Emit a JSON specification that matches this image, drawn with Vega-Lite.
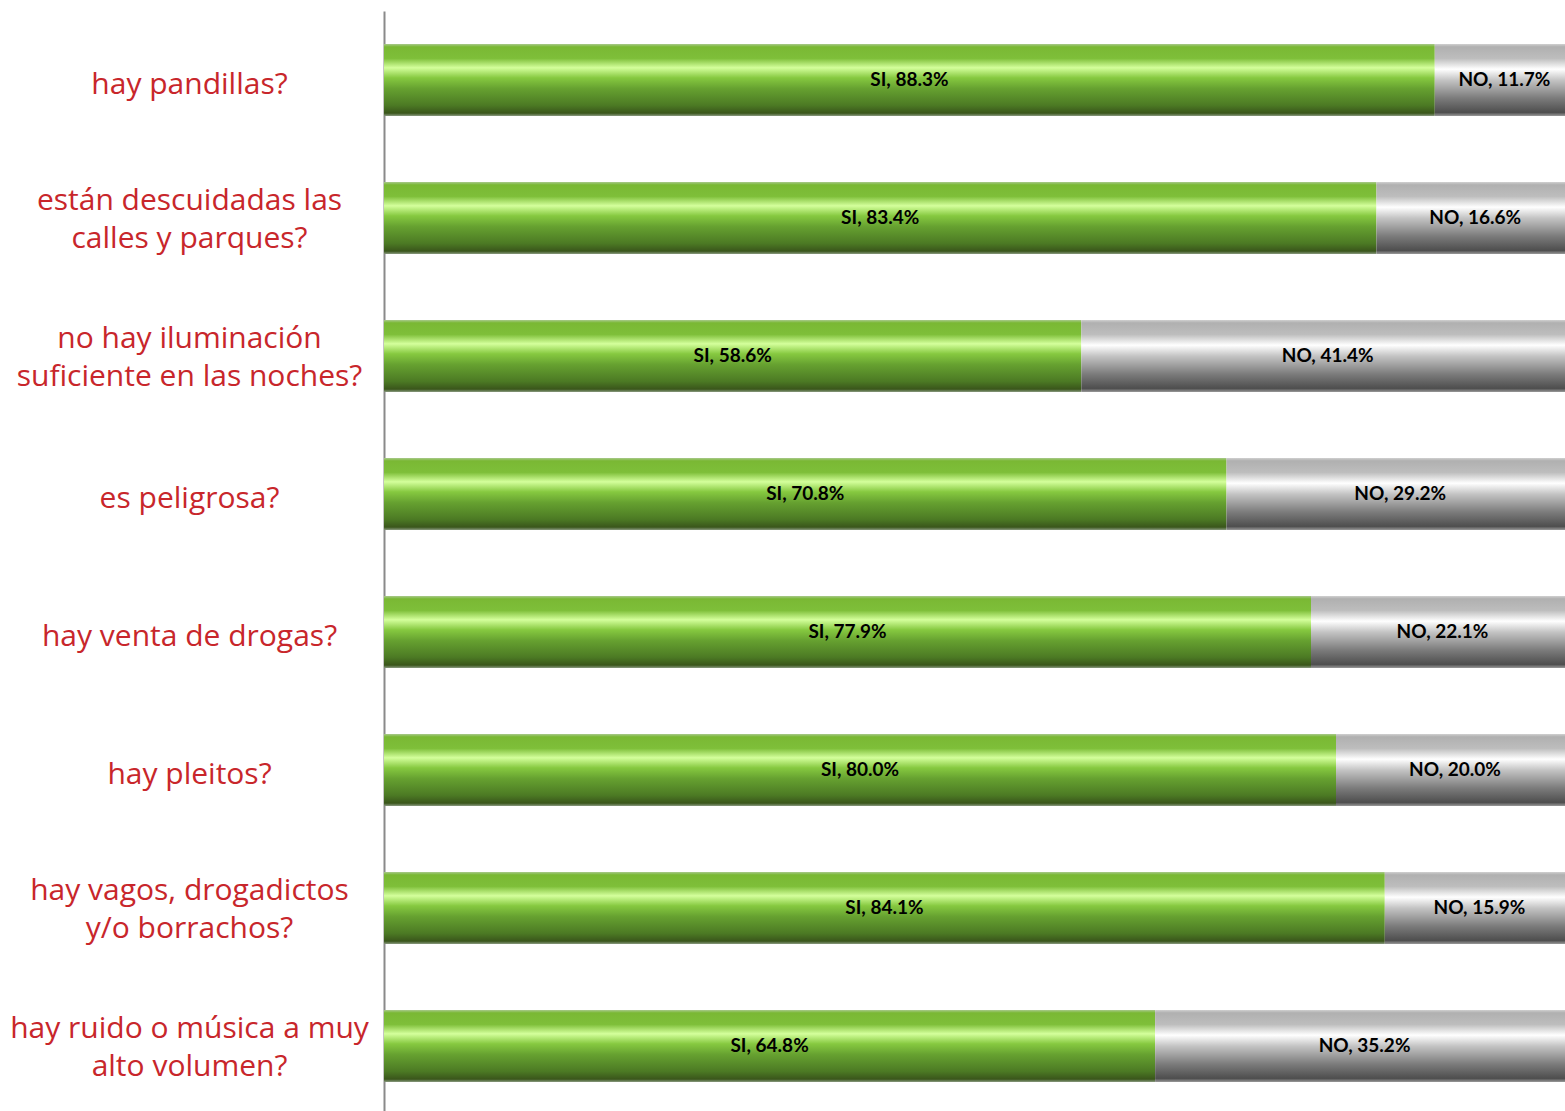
{
  "$schema": "https://vega.github.io/schema/vega-lite/v6.json",
  "autosize": "none",
  "width": 1190,
  "height": 1104,
  "padding": {"left": 384, "top": 11, "right": 0, "bottom": 0},
  "background": "white",
  "view": {"stroke": null},
  "data": {"values": [
    {"q": "hay pandillas?", "resp": "SI", "pct": 88.3, "ord": 1},
    {"q": "hay pandillas?", "resp": "NO", "pct": 11.7, "ord": 2},
    {"q": "están descuidadas las|calles y parques?", "resp": "SI", "pct": 83.4, "ord": 1},
    {"q": "están descuidadas las|calles y parques?", "resp": "NO", "pct": 16.6, "ord": 2},
    {"q": "no hay iluminación|suficiente en las noches?", "resp": "SI", "pct": 58.6, "ord": 1},
    {"q": "no hay iluminación|suficiente en las noches?", "resp": "NO", "pct": 41.4, "ord": 2},
    {"q": "es peligrosa?", "resp": "SI", "pct": 70.8, "ord": 1},
    {"q": "es peligrosa?", "resp": "NO", "pct": 29.2, "ord": 2},
    {"q": "hay venta de drogas?", "resp": "SI", "pct": 77.9, "ord": 1},
    {"q": "hay venta de drogas?", "resp": "NO", "pct": 22.1, "ord": 2},
    {"q": "hay pleitos?", "resp": "SI", "pct": 80.0, "ord": 1},
    {"q": "hay pleitos?", "resp": "NO", "pct": 20.0, "ord": 2},
    {"q": "hay vagos, drogadictos|y/o borrachos?", "resp": "SI", "pct": 84.1, "ord": 1},
    {"q": "hay vagos, drogadictos|y/o borrachos?", "resp": "NO", "pct": 15.9, "ord": 2},
    {"q": "hay ruido o música a muy|alto volumen?", "resp": "SI", "pct": 64.8, "ord": 1},
    {"q": "hay ruido o música a muy|alto volumen?", "resp": "NO", "pct": 35.2, "ord": 2}
  ]},
  "transform": [
    {"stack": "pct", "groupby": ["q"], "sort": [{"field": "ord", "order": "ascending"}], "as": ["x0", "x1"]},
    {"calculate": "(datum.x0 + datum.x1) / 2", "as": "mid"},
    {"calculate": "datum.resp + ', ' + format(datum.pct, '.1f') + '%'", "as": "label"}
  ],
  "encoding": {
    "y": {
      "field": "q", "type": "nominal", "sort": null,
      "scale": {"paddingInner": 0.478, "paddingOuter": 0.239},
      "axis": {
        "title": null,
        "ticks": false,
        "labelPadding": 195,
        "labelAlign": "center",
        "labelBaseline": "middle",
        "labelExpr": "split(datum.label, '|')",
        "labelOffset": {"condition": {"test": "indexof(datum.value, '|') >= 0", "value": -17}, "value": 5},
        "labelFont": "Open Sans",
        "labelFontSize": 30,
        "labelLineHeight": 38,
        "labelColor": "#C8262B",
        "labelLimit": 0,
        "domainColor": "#8a8a8a",
        "domainWidth": 2,
        "grid": false
      }
    }
  },
  "layer": [
    {
      "transform": [{"filter": "datum.resp == 'SI'"}],
      "mark": {
        "type": "bar",
        "color": {
          "gradient": "linear", "x1": 0, "y1": 0, "x2": 0, "y2": 1,
          "stops": [
            {"offset": 0, "color": "#a9c98c"},
            {"offset": 0.04, "color": "#7ab834"},
            {"offset": 0.2, "color": "#7ebf39"},
            {"offset": 0.33, "color": "#d4ff9c"},
            {"offset": 0.47, "color": "#86c940"},
            {"offset": 0.62, "color": "#66a130"},
            {"offset": 0.85, "color": "#4c7a24"},
            {"offset": 0.96, "color": "#3a561b"},
            {"offset": 1, "color": "#8a9a80"}
          ]
        }
      },
      "encoding": {
        "x": {"field": "x0", "type": "quantitative", "scale": {"domain": [0, 100], "nice": false}, "axis": null},
        "x2": {"field": "x1"}
      }
    },
    {
      "transform": [{"filter": "datum.resp == 'NO'"}],
      "mark": {
        "type": "bar",
        "color": {
          "gradient": "linear", "x1": 0, "y1": 0, "x2": 0, "y2": 1,
          "stops": [
            {"offset": 0, "color": "#d0d0d0"},
            {"offset": 0.04, "color": "#b0b0b0"},
            {"offset": 0.2, "color": "#bdbdbd"},
            {"offset": 0.35, "color": "#ffffff"},
            {"offset": 0.5, "color": "#c4c4c4"},
            {"offset": 0.75, "color": "#7c7c7c"},
            {"offset": 0.95, "color": "#4e4e4e"},
            {"offset": 1, "color": "#9a9a9a"}
          ]
        }
      },
      "encoding": {
        "x": {"field": "x0", "type": "quantitative", "scale": {"domain": [0, 100], "nice": false}, "axis": null},
        "x2": {"field": "x1"}
      }
    },
    {
      "mark": {"type": "text", "font": "Lato", "fontSize": 19, "fontWeight": "bold", "color": "#000000", "align": "center", "baseline": "middle"},
      "encoding": {
        "x": {"field": "mid", "type": "quantitative", "scale": {"domain": [0, 100], "nice": false}, "axis": null},
        "text": {"field": "label"}
      }
    }
  ]
}
